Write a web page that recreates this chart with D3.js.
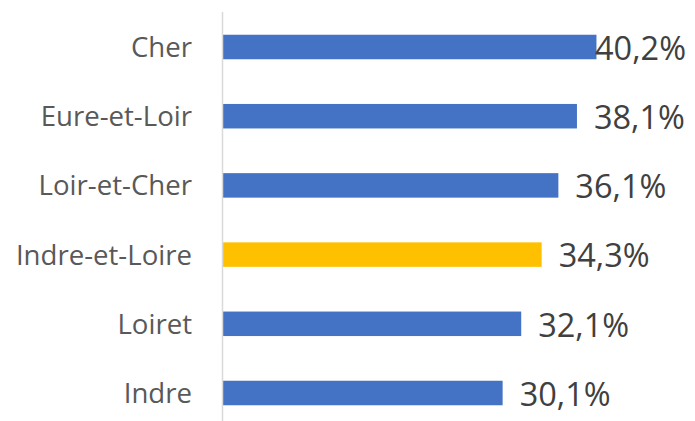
<!DOCTYPE html>
<html>
<head>
<meta charset="utf-8">
<script src="https://cdn.jsdelivr.net/npm/d3@7"></script>
<style>
  body { margin: 0; background: #fff; }
  svg { display: block; }
</style>
</head>
<body>
<div id="chart"></div>
<script>
var categories = ["Cher", "Eure-et-Loir", "Loir-et-Cher", "Indre-et-Loire", "Loiret", "Indre"];
var values = [40.2, 38.1, 36.1, 34.3, 32.1, 30.1];
var highlight = ["Indre-et-Loire"];

var width = 695, height = 421;
var axisX = 223;
var labelRight = 686;

var svg = d3.select("#chart").append("svg")
    .attr("width", width)
    .attr("height", height)
    .style("font-family", "'Open Sans', sans-serif");

var x = d3.scaleLinear().domain([0, 50]).range([axisX, axisX + 464.5]);
var y = d3.scaleBand().domain(categories)
    .range([12.4, 427.6])
    .paddingInner(0.646)
    .paddingOuter(0.323);

var data = categories.map(function (c, i) { return {name: c, value: values[i]}; });

// bars
svg.append("g").selectAll("rect")
    .data(data)
    .enter().append("rect")
    .attr("x", x(0))
    .attr("y", function (d) { return y(d.name); })
    .attr("width", function (d) { return x(d.value) - x(0); })
    .attr("height", y.bandwidth())
    .attr("fill", function (d) { return highlight.indexOf(d.name) >= 0 ? "#FFC000" : "#4472C4"; });

// vertical axis line
svg.append("line")
    .attr("x1", axisX - 0.5).attr("x2", axisX - 0.5)
    .attr("y1", 12).attr("y2", height)
    .attr("stroke", "#d9d9d9")
    .attr("stroke-width", 1.5);

// category labels
svg.append("g").selectAll("text")
    .data(data)
    .enter().append("text")
    .attr("x", 192)
    .attr("y", function (d) { return y(d.name) + y.bandwidth() / 2; })
    .attr("dy", "0.36em")
    .attr("text-anchor", "end")
    .attr("fill", "#595959")
    .style("font-size", "27.6px")
    .text(function (d) { return d.name; });

// value labels, pushed back inside when they would overflow
var fmt = function (v) { return d3.format(".1f")(v).replace(".", ",") + "%"; };
svg.append("g").selectAll("text")
    .data(data)
    .enter().append("text")
    .attr("y", function (d) { return y(d.name) + y.bandwidth() / 2 + 1; })
    .attr("dy", "0.36em")
    .attr("fill", "#404040")
    .style("font-size", "32.5px")
    .text(function (d) { return fmt(d.value); })
    .attr("x", function (d) {
        var w = this.getComputedTextLength();
        return Math.min(x(d.value) + 17, labelRight - w);
    });
</script>
</body>
</html>
